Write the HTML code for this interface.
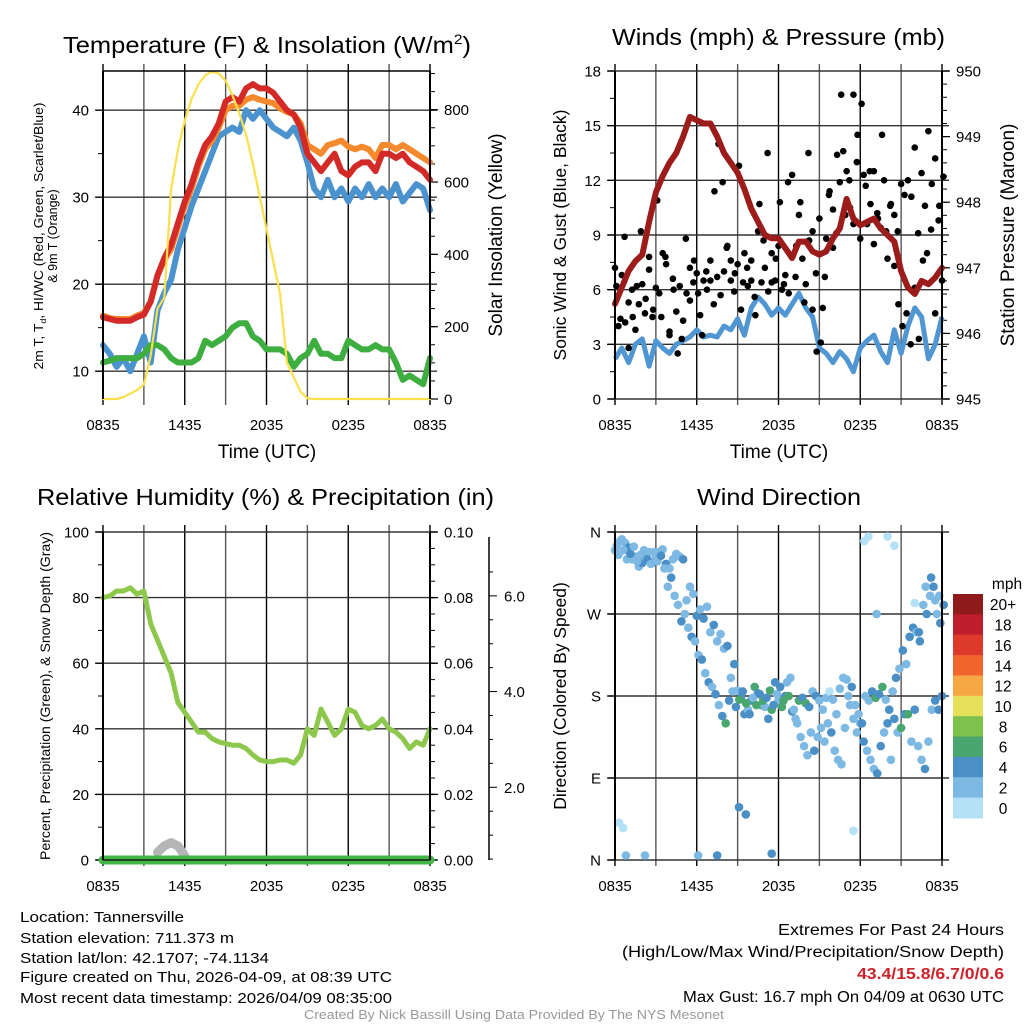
<!DOCTYPE html>
<html><head><meta charset="utf-8">
<style>
html,body{margin:0;padding:0;background:#fff;}
svg{display:block;font-family:"Liberation Sans",sans-serif;}
</style></head>
<body>
<svg id="fig" width="1024" height="1024" viewBox="0 0 1024 1024" xmlns="http://www.w3.org/2000/svg">
<rect width="1024" height="1024" fill="#fff"/>
<g id="layer"></g>
<text x="63" y="53" font-size="23" textLength="408" lengthAdjust="spacingAndGlyphs">Temperature (F) &amp; Insolation (W/m<tspan font-size="14" dy="-9">2</tspan><tspan dy="9">)</tspan></text>
<text x="612" y="45" font-size="23" textLength="333" lengthAdjust="spacingAndGlyphs">Winds (mph) &amp; Pressure (mb)</text>
<text x="37" y="505" font-size="23" textLength="457" lengthAdjust="spacingAndGlyphs">Relative Humidity (%) &amp; Precipitation (in)</text>
<text x="697" y="505" font-size="23" textLength="164" lengthAdjust="spacingAndGlyphs">Wind Direction</text>
<text x="267" y="458" font-size="19" text-anchor="middle">Time (UTC)</text>
<text x="779" y="458" font-size="19" text-anchor="middle">Time (UTC)</text>
<text transform="translate(43,236) rotate(-90)" font-size="12.5" text-anchor="middle" textLength="267" lengthAdjust="spacingAndGlyphs">2m T, T<tspan font-size="8" dy="3">d</tspan><tspan dy="-3">, HI/WC (Red, Green, Scarlet/Blue)</tspan></text>
<text transform="translate(57,236) rotate(-90)" font-size="12.5" text-anchor="middle">&amp; 9m T (Orange)</text>
<text transform="translate(502,235) rotate(-90)" font-size="19" text-anchor="middle">Solar Insolation (Yellow)</text>
<text transform="translate(566,235) rotate(-90)" font-size="17.5" text-anchor="middle">Sonic Wind &amp; Gust (Blue, Black)</text>
<text transform="translate(1014,235) rotate(-90)" font-size="19" text-anchor="middle">Station Pressure (Maroon)</text>
<text transform="translate(50,696) rotate(-90)" font-size="13.5" text-anchor="middle" textLength="328" lengthAdjust="spacingAndGlyphs">Percent, Precipitation (Green), &amp; Snow Depth (Gray)</text>
<text transform="translate(566,696) rotate(-90)" font-size="17.5" text-anchor="middle">Direction (Colored By Speed)</text>
<g font-size="15">
<text x="20" y="922" textLength="164" lengthAdjust="spacingAndGlyphs">Location: Tannersville</text>
<text x="20" y="943" textLength="214" lengthAdjust="spacingAndGlyphs">Station elevation: 711.373 m</text>
<text x="20" y="963" textLength="249" lengthAdjust="spacingAndGlyphs">Station lat/lon: 42.1707; -74.1134</text>
<text x="20" y="982" textLength="372" lengthAdjust="spacingAndGlyphs">Figure created on Thu, 2026-04-09, at 08:39 UTC</text>
<text x="20" y="1003" textLength="372" lengthAdjust="spacingAndGlyphs">Most recent data timestamp: 2026/04/09 08:35:00</text>
</g>
<g font-size="15.5">
<text x="778" y="935" textLength="226" lengthAdjust="spacingAndGlyphs">Extremes For Past 24 Hours</text>
<text x="622" y="957" textLength="382" lengthAdjust="spacingAndGlyphs">(High/Low/Max Wind/Precipitation/Snow Depth)</text>
<text x="857" y="979" textLength="147" lengthAdjust="spacingAndGlyphs" fill="#cc2229" font-weight="bold">43.4/15.8/6.7/0/0.6</text>
<text x="683" y="1002" textLength="321" lengthAdjust="spacingAndGlyphs">Max Gust: 16.7 mph On 04/09 at 0630 UTC</text>
</g>
<text x="304" y="1019" font-size="12.5" fill="#999" textLength="420" lengthAdjust="spacingAndGlyphs">Created By Nick Bassill Using Data Provided By The NYS Mesonet</text>
</svg>
<script>
// ---- data (half-hourly, hours since 0835 UTC) ----
const xTickLabels = ['0835','1435','2035','0235','0835'];
const tempRed = [16.2,16,15.8,15.8,15.8,16.2,16.5,18,21,23,24.5,27,29.5,31.5,34,36,37,38.5,41,41.5,41,42.5,43,42.5,42.5,42,41,40,39.5,38,35,34,33,34,35,33,32.5,33.5,34,34,33,35,35,34.5,35,34,33.5,33,32];
const tempOrange = [16.4,16.1,16,16,16,16.4,16.7,18,21,22.8,24,26.5,29,31,33.5,35.5,36.5,38,40,40.5,40.5,41.2,41.5,41.2,41,40.8,40.2,39.8,39.5,38.5,36,35.5,35,36,36.2,36.5,35.8,35.5,35.8,35.5,34.5,36,36,35.5,36,35.5,35,34.5,34];
const tempBlue = [13,12,10.5,11.5,10,12,14,11,17,19,20.5,24,26.5,29,31,33,35,37,37.5,38,37.5,40,39,40,39,38,37.5,37,38,36.5,34,31,30,32,30,31,29.5,31,30,31.5,30,31,30,31.5,29.5,30.5,31.5,31,28.5];
const tempGreen = [11,11.2,11.5,11.5,11.5,11.5,12,13,13,12.5,11.5,11,11,11,11.5,13.5,13,13.5,14,15,15.5,15.5,14,13.5,12.5,12.5,12.5,12,10.5,11.5,12,13.5,12,12,11.5,11.5,13.5,13,12.5,12.5,13,12.5,12.5,11,9,9.5,9,8.5,11.5];
const solar = [0,0,0,5,15,25,40,120,250,280,580,690,770,830,870,895,905,900,880,840,790,730,650,560,470,380,290,100,60,20,2,0,0,0,0,0,0,0,0,0,0,0,0,0,0,0,0,0,0];
const windSonic = [2.2,2.8,2.0,3.0,3.3,1.8,3.2,2.8,2.5,3.0,3.2,3.4,3.8,3.4,3.5,3.4,4.0,3.8,4.4,3.5,5.0,5.6,5.2,4.6,5.0,4.6,5.2,5.8,5.0,4.5,2.8,2.5,2.0,2.6,2.2,1.5,2.8,3.2,3.5,2.6,2.0,3.8,2.5,4.0,5.0,4.5,2.2,3.0,4.5];
const pressure = [946.45,946.7,946.95,947.1,947.2,947.7,948.15,948.4,948.6,948.75,949.0,949.3,949.25,949.2,949.2,949.0,948.75,948.6,948.45,948.2,947.9,947.7,947.5,947.45,947.45,947.3,947.15,947.4,947.4,947.25,947.2,947.25,947.45,947.6,948.05,947.75,947.65,947.7,947.75,947.6,947.5,947.4,946.95,946.7,946.6,946.8,946.75,946.85,947.0];
const gusts = [7.2,4.0,6.8,4.2,2.8,6.0,3.8,5.2,6.3,5.5,7.1,4.5,6.1,5.8,8.0,7.4,3.5,6.6,4.8,6.2,4.3,5.8,7.2,6.4,6.9,4.6,6.5,6.0,7.6,5.2,6.7,5.7,7.0,8.4,6.5,5.9,7.4,4.9,8.0,6.2,7.6,5.6,9.2,6.4,7.2,5.9,8.0,6.5,8.4,6.0,6.8,5.8,7.8,6.7,10.1,7.7,6.3,8.7,9.2,6.9,9.9,5.0,8.8,11.4,10.4,9.1,11.9,13.6,12.5,10.5,9.6,13.0,8.8,12.3,9.6,10.7,12.5,10.2,9.4,12.0,7.7,10.7,10.1,9.2,11.8,11.2,12.0,11.1,13.8,9.1,12.4,10.6,14.7,11.8,13.2,9.8,6.5];
const gusts2 = [6.2,4.4,8.9,5.3,4.5,6.2,9.2,4.7,7.8,4.9,10.9,4.5,7.8,3.7,6.0,2.5,3.3,8.8,5.4,7.6,5.8,3.5,7.0,6.5,11.4,14.0,11.9,8.3,7.6,6.9,12.8,6.4,7.2,6.5,4.6,10.7,8.7,13.5,6.4,7.7,10.8,6.3,11.9,12.3,8.4,10.8,5.3,13.5,4.9,2.6,3.1,6.7,11.2,8.3,13.4,16.7,10.1,12.0,16.7,14.5,16.2,11.7,12.5,8.5,9.9,14.5,9.2,10.6,7.3,5.2,4.0,4.7,3.0,6.1,3.3,7.6,8.0,9.3,4.7,10.6,12.2];
const dirDeg = [340,335,352,348,343,330,333,322,326,332,338,326,332,338,341,325,320,330,336,333,330,285,300,292,268,275,265,278,250,258,240,248,232,235,200,215,186,178,160,165,175,190,183,170,168,155,165,195,175,168,180,180,163,155,175,178,172,168,185,180,175,165,178,185,176,160,188,200,198,170,155,140,150,130,120,110,100,95,125,140,150,110,155,140,145,160,160,130,165,125,110,100,130,165,175,165,180];
const dirSpd = [3,2.5,3,2.5,4,3,2.5,3,4,2.5,3,4.5,3,2.5,3,4.5,3,2.5,2.5,3,4.5,2.5,3,3,4.5,3,4.5,3,2.5,4.5,3,2.5,3,4.5,3,4.5,3,4.5,4.5,3,4.5,6.5,4.5,6.5,3,4.5,6.5,4.5,3,6.5,4.5,6.5,4.5,3,6.5,4.5,6.5,4.5,3,4.5,3,2.5,3,1.5,3,2.5,3,2.5,3,2.5,3,2.5,3,4.5,3,2.5,3,4.5,4.5,3,4.5,3,4.5,3,6.5,4.5,6.5,3,4.5,2.5,3,4.5,3,3,4.5,4.5,4.5];
const dirDeg2 = [345,350,340,330,336,344,328,335,340,330,325,338,328,334,320,300,310,290,280,262,270,255,245,240,225,220,205,195,190,182,170,158,150,175,185,168,176,185,172,160,178,170,182,175,178,186,170,182,190,175,195,200,165,150,135,125,115,140,120,135,145,130,150,140,120,110,105,145,180,190,170,160,150,180,175,185,178,182,190,176,165,185,200,210,230,215,245,255,250,240,280,270,290,300,270,260,280];
const dirSpd2 = [3,3,2.5,3,4.5,3,3,2.5,3,4.5,3,3,3,4.5,3,3,4.5,3,3,4.5,3,3,4.5,3,3,4.5,3,4.5,3,4.5,3,4.5,6.5,4.5,3,4.5,6.5,4.5,6.5,4.5,3,6.5,4.5,6.5,4.5,6.5,4.5,3,4.5,6.5,3,3,3,2.5,3,3,2.5,3,4.5,3,3,2.5,3,4.5,3,3,2.5,3,3,4.5,3,3,4.5,3,3,4.5,6.5,4.5,6.5,3,4.5,3,4.5,3,4.5,3,4.5,4.5,3,4.5,3,4.5,3,4.5,3,4.5,4.5];
const dirOutT = [0.3,0.6,0.8,2.2,9.6,9.1,11.5,7.5,6.1,20.0,20.5,22.3,22.8,18.3,18.6,19.2,17.5,23.8,23.2,23.5,22.0];
const dirOutDeg = [41,35,5,5,50,58,7,5,5,355,345,250,300,350,355,270,32,290,310,285,282];
const dirOutSpd = [1,1.5,2.5,2.5,4.5,4.5,4.5,4.5,2.5,1,1,4.5,3,1,1,2.5,1,3,4.5,3,1];
const rh = [80,80.5,82,82,83,81,82,72,67,62,57,48,45,42,39,39,37,36,35.5,35,35,34,32,30.5,30,30,30.5,30.5,29.5,32,40,38,46,42,38,40,46,45,41,40,41,43,40,39,37,34,36,35,40];
const snowT = [4.0,4.5,5.0,5.5,6.0];
const snowH = [0.002,0.004,0.005,0.004,0.001];
const cbLabels = ['20+','18','16','14','12','10','8','6','4','2','0'];
const cbColors = ['#8f1a1c','#be1e2d','#de3a2c','#f1642c','#f7a845','#e7e05a','#7cc24c','#4aa66f','#4a8fc6','#7db9e3','#b4e1f6'];

const NS='http://www.w3.org/2000/svg';
const L=document.getElementById('layer');
function mk(tag,attrs,parent){const e=document.createElementNS(NS,tag);for(const k in attrs)e.setAttribute(k,attrs[k]);(parent||L).appendChild(e);return e;}
function lin(d0,d1,r0,r1){return v=>r0+(v-d0)/(d1-d0)*(r1-r0);}
function halfT(i){return i*0.5;}
function linePath(xs,ys){let s='';for(let i=0;i<xs.length;i++)s+=(i?'L':'M')+xs[i].toFixed(1)+','+ys[i].toFixed(1);return s;}

function frame(x0,x1,y0,y1,name,xlabels){
  const g=mk('g',{});
  
  
  const xs=lin(0,24,x0,x1);
  for(let h=0;h<=24;h+=3){
    mk('line',{x1:xs(h),x2:xs(h),y1:y0-7,y2:y1+6,stroke:(h%6===0)?'#000':'#555','stroke-width':1.4},g);
  }
  if(xlabels){
    for(let i=0;i<xTickLabels.length;i++){
      const t=mk('text',{x:xs(i*6),y:y1+31,'font-size':15,'text-anchor':'middle'},g);
      
      
      t.textContent=xTickLabels[i];
    }
  }
  return xs;
}
function border(x0,x1,y0,y1){
  mk('line',{x1:x0,x2:x0,y1:y0,y2:y1,stroke:'#000','stroke-width':2});
  mk('line',{x1:x1,x2:x1,y1:y0,y2:y1,stroke:'#000','stroke-width':2});
}
function yAxis(x,x0,x1,ys,ticks,minor,side,fmt,grid,name){
  const g=mk('g',{});
  
  
  for(const v of minor){const y=ys(v);mk('line',{x1:x,x2:x+(side<0?-5:5),y1:y,y2:y,stroke:'#000','stroke-width':1},g);}
  for(const v of ticks){
    const y=ys(v);
    if(grid)mk('line',{x1:x0-7,x2:x1+7,y1:y,y2:y,stroke:'#333','stroke-width':1.4},g);
    mk('line',{x1:x,x2:x+(side<0?-8:8),y1:y,y2:y,stroke:'#000','stroke-width':1.2},g);
    const t=mk('text',{x:side<0?x-14:x+14,y:y+5.5,'font-size':15,'text-anchor':side<0?'end':'start'},g);
    
    
    t.textContent=fmt(v);
  }
}
function range(a,b,s){const r=[];for(let v=a;v<=b+1e-9;v+=s)r.push(+v.toFixed(4));return r;}

// Panel 1
(function(){
  const x0=103,x1=430,y0=71,y1=399;
  const xs=frame(x0,x1,y0,y1,'temp',true);
  const yT=lin(6.8,44.5,y1,y0), yS=lin(0,907,y1,y0);
  yAxis(x0,x0,x1,yT,[10,20,30,40],[15,25,35],-1,v=>v,true,'temp-left-axis');
  yAxis(x1,x0,x1,yS,[0,200,400,600,800],range(50,900,50),1,v=>v,false,'solar-right-axis');
  const series=[['solar-line',solar,yS,'#fbe04c',2.2],['wind-chill-line',tempBlue,yT,'#4b93cf',6],['dewpoint-line',tempGreen,yT,'#3fae40',6],['temp-9m-line',tempOrange,yT,'#f5892e',6],['temp-2m-line',tempRed,yT,'#d42a27',6]];
  const order=[1,2,3,4,0];
  for(const k of order){
    const [nm,arr,sc,col,w]=series[k];
    const p=mk('path',{d:linePath(arr.map((v,i)=>xs(halfT(i))),arr.map(v=>sc(v))),fill:'none',stroke:col,'stroke-width':w,'stroke-linejoin':'round','stroke-linecap':'round'});
    
    
  }
  border(x0,x1,y0,y1);
  mk('line',{x1:x0,x2:x1,y1:y0,y2:y0,stroke:'#000','stroke-width':1.4});
})();

// Panel 2
(function(){
  const x0=615,x1=942,y0=71,y1=399;
  const xs=frame(x0,x1,y0,y1,'wind',true);
  const yW=lin(0,18,y1,y0), yP=lin(945,950,y1,y0);
  yAxis(x0,x0,x1,yW,[0,3,6,9,12,15,18],range(1.5,16.5,3),-1,v=>v,true,'wind-left-axis');
  yAxis(x1,x0,x1,yP,[945,946,947,948,949,950],range(945.2,949.8,0.2),1,v=>v,false,'pressure-right-axis');
  const b=mk('path',{d:linePath(windSonic.map((v,i)=>xs(halfT(i))),windSonic.map(v=>yW(v))),fill:'none',stroke:'#4f96d2','stroke-width':5,'stroke-linejoin':'round'});
  
  
  const g=mk('g',{});
  
  
  gusts.forEach((v,i)=>{mk('circle',{cx:xs(i*0.25),cy:yW(v),r:3.3,fill:'#000'},g);});
  gusts2.forEach((v,i)=>{mk('circle',{cx:xs(i*0.3+0.1),cy:yW(v),r:3.3,fill:'#000'},g);});
  const p=mk('path',{d:linePath(pressure.map((v,i)=>xs(halfT(i))),pressure.map(v=>yP(v))),fill:'none',stroke:'#9c1c1c','stroke-width':6,'stroke-linejoin':'round','stroke-linecap':'round'});
  
  
  border(x0,x1,y0,y1);
})();

// Panel 3
(function(){
  const x0=103,x1=430,y0=532,y1=860;
  const xs=frame(x0,x1,y0,y1,'rh',true);
  const yR=lin(0,100,y1,y0), yPr=lin(0,0.1,y1,y0);
  yAxis(x0,x0,x1,yR,[0,20,40,60,80,100],range(10,90,20),-1,v=>v,true,'rh-left-axis');
  yAxis(x1,x0,x1,yPr,[0,0.02,0.04,0.06,0.08,0.10],range(0.005,0.095,0.005),1,v=>v.toFixed(2),false,'precip-right-axis');
  const ySn=lin(0,7,883,548);
  mk('line',{x1:489,x2:489,y1:537,y2:860,stroke:'#000','stroke-width':1.5});
  const sg=mk('g',{});
  
  
  for(let v=0.5;v<7;v+=0.5){const y=ySn(v);if(y<537||y>860)continue;const maj=Math.abs(v%2)<1e-9;mk('line',{x1:489,x2:maj?497:493,y1:y,y2:y,stroke:'#000','stroke-width':1},sg);
    if(maj){const t=mk('text',{x:504,y:y+5.5,'font-size':15},sg);t.textContent=v.toFixed(1);}}
  const r=mk('path',{d:linePath(rh.map((v,i)=>xs(halfT(i))),rh.map(v=>yR(v))),fill:'none',stroke:'#8dc84c','stroke-width':5,'stroke-linejoin':'round','stroke-linecap':'round'});
  
  
  const sp=mk('path',{d:linePath(snowT.map(xs),snowH.map(v=>yPr(v)-1)),fill:'none',stroke:'#b5b5b5','stroke-width':9,'stroke-linecap':'round','stroke-linejoin':'round'});
  
  
  const pr=mk('line',{x1:xs(0),x2:xs(24),y1:yPr(0),y2:yPr(0),stroke:'#45b447','stroke-width':9,'stroke-linecap':'round'});
  
  
  mk('line',{x1:x0,x2:x1,y1:y1,y2:y1,stroke:'#000','stroke-width':1.3});
  border(x0,x1,y0,y1);
})();

// Panel 4
(function(){
  const x0=615,x1=942,y0=532,y1=860;
  const xs=frame(x0,x1,y0,y1,'dir',true);
  const yD=lin(0,360,y1,y0);
  const dl=['N','E','S','W','N'];
  yAxis(x0,x0,x1,yD,[0,90,180,270,360],[],-1,v=>dl[v/90],true,'direction-axis');
  function col(s){const idx=Math.min(10,Math.floor(s/2));return cbColors[10-idx];}
  const g=mk('g',{});
  
  
  dirDeg.forEach((d,i)=>{mk('circle',{cx:xs(i*0.25),cy:yD(d),r:4.3,fill:col(dirSpd[i])},g);});
  dirDeg2.forEach((d,i)=>{mk('circle',{cx:xs(i*0.25+0.125),cy:yD(d),r:4.3,fill:col(dirSpd2[i])},g);});
  dirOutT.forEach((t,i)=>{mk('circle',{cx:xs(t),cy:yD(dirOutDeg[i]),r:4.3,fill:col(dirOutSpd[i])},g);});
  border(x0,x1,y0,y1);
  const cb=mk('g',{});
  
  
  const h=(818-594)/cbColors.length;
  cbColors.forEach((c,i)=>{
    mk('rect',{x:953,y:594+i*h,width:30,height:h+0.5,fill:c},cb);
    const t=mk('text',{x:1003,y:594+i*h+h/2+6,'font-size':15.5,'text-anchor':'middle'},cb);
    
    
    t.textContent=cbLabels[i];
  });
  const m=mk('text',{x:1007,y:589,'font-size':15.5,'text-anchor':'middle'},cb);
  m.textContent='mph';
})();
</script>
</body></html>
